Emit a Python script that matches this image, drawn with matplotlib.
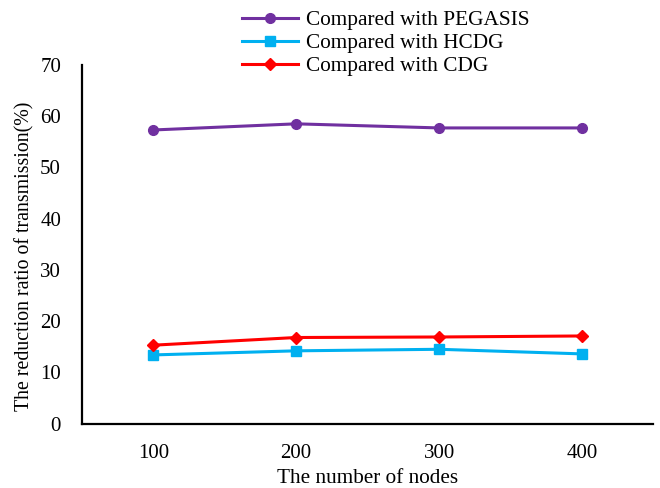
import matplotlib.pyplot as plt

plt.rcParams['font.family'] = ['Liberation Serif', 'DejaVu Serif']

nodes = ['100', '200', '300', '400']
pegasis = [57.3, 58.5, 57.7, 57.7]
hcdg = [13.4, 14.2, 14.5, 13.6]
cdg = [15.3, 16.8, 16.9, 17.1]

fig = plt.figure(figsize=(6.6, 4.88), dpi=100)
ax = fig.add_axes([0.124, 0.132, 0.866, 0.735])

x = range(1, len(nodes) + 1)
ax.plot(x, pegasis, color='#7030A0', lw=2.2, marker='o', ms=7, label='Compared with PEGASIS')
ax.plot(x, hcdg, color='#00B0F0', lw=2.2, marker='s', ms=7, label='Compared with HCDG')
ax.plot(x, cdg, color='#FF0000', lw=2.2, marker='D', ms=6, label='Compared with CDG')

ax.set_xlim(0.5, 4.5)
ax.set_ylim(0, 70)
ax.set_yticks(range(0, 71, 10))
ax.set_xticks(list(x))
ax.set_xticklabels(nodes)
ax.tick_params(length=0, labelsize=15, pad=15)
ax.tick_params(axis='y', pad=15)
for s in ['top', 'right']:
    ax.spines[s].set_visible(False)
ax.spines['left'].set_linewidth(1.6)
ax.spines['bottom'].set_linewidth(1.6)

ax.set_xlabel('The number of nodes', fontsize=15.3, labelpad=4)
ax.set_ylabel('The reduction ratio of transmission(%)', fontsize=14.3)
ax.yaxis.set_label_coords(-0.082, 0.467)

fig.legend(loc='upper left', bbox_to_anchor=(0.351, 1.0), frameon=False,
           fontsize=15.3, handlelength=2.6, labelspacing=0.14, handletextpad=0.4,
           borderaxespad=0.1)

fig.savefig('out.png', dpi=100)
